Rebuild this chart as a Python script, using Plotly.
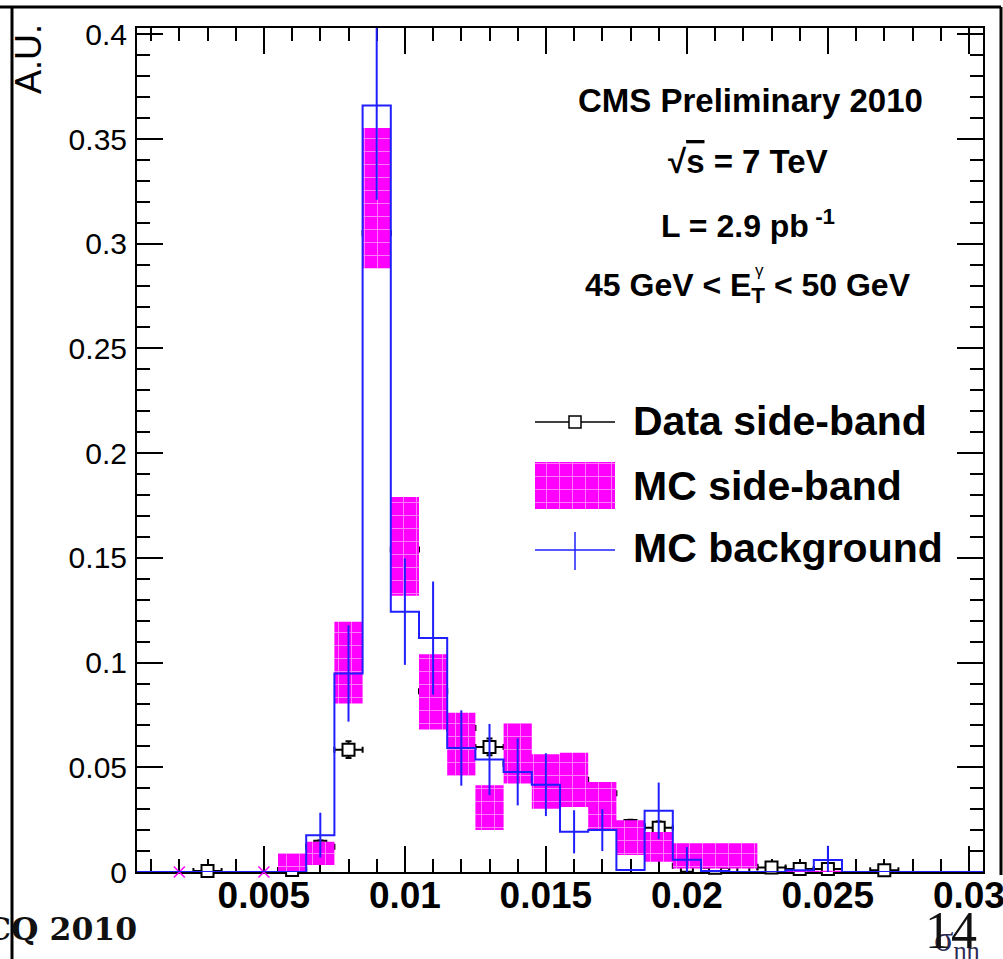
import numpy as np
import plotly.graph_objects as go

# ---------------- data ----------------
bin_width = 0.001
bin_centers = [round(0.001 * k, 3) for k in range(1, 31)]

# MC background histogram (blue), one value per bin centre 0.001 ... 0.030
mc_bkg_values = [0, 0, 0, 0, 0, 0, 0.0176, 0.0948, 0.366, 0.1243,
                 0.1117, 0.0592, 0.0537, 0.0478, 0.0417, 0.0192, 0.020, 0.001, 0.0292, 0.0059,
                 0.0005, 0, 0, 0.0008, 0.0057, 0, 0, 0, 0, 0]
mc_bkg_errors = [0, 0, 0, 0, 0, 0, 0.0107, 0.023, 0.045, 0.0254,
                 0.027, 0.018, 0.017, 0.016, 0.015, 0.0103, 0.010, 0, 0.0135, 0.006,
                 0, 0, 0, 0, 0.0068, 0, 0, 0, 0, 0]

# MC side-band (magenta boxes: value +- error)
mc_sb_x = [0.006, 0.007, 0.008, 0.009, 0.010, 0.011, 0.012, 0.013, 0.014, 0.015,
           0.016, 0.017, 0.018, 0.019, 0.020, 0.021, 0.022, 0.024, 0.025]
mc_sb_values = [0.0045, 0.0089, 0.100, 0.3217, 0.1555, 0.086, 0.061, 0.0307, 0.0567, 0.0432,
                0.044, 0.0315, 0.0164, 0.012, 0.0077, 0.0077, 0.0077, 0.0003, 0.0003]
mc_sb_errors = [0.0045, 0.0056, 0.0195, 0.0335, 0.0236, 0.018, 0.015, 0.0107, 0.0145, 0.013,
                0.013, 0.0115, 0.0083, 0.0071, 0.006, 0.006, 0.006, 0.0003, 0.0003]
mc_sb_zero_x = [0.002, 0.005]
mc_sb_zero_y = [0, 0]

# Data side-band (black squares)
data_sb_x = [0.003, 0.006, 0.007, 0.008, 0.009, 0.010, 0.011, 0.012, 0.013, 0.014,
             0.015, 0.016, 0.017, 0.018, 0.019, 0.020, 0.021, 0.022, 0.023, 0.024,
             0.025, 0.027]
data_sb_values = [0.0005, 0.001, 0.012, 0.0584, 0.305, 0.154, 0.0863, 0.0687, 0.0597, 0.0517,
                  0.0514, 0.044, 0.0376, 0.022, 0.0211, 0.003, 0.002, 0.0025, 0.0022, 0.0014,
                  0.0014, 0.0008]
data_sb_errors = [0.0005, 0.001, 0.003, 0.004, 0.009, 0.008, 0.006, 0.005, 0.004, 0.004,
                  0.004, 0.004, 0.004, 0.003, 0.003, 0.002, 0.0015, 0.0015, 0.0015, 0.001,
                  0.001, 0.001]

x_tick_vals = [0.005, 0.01, 0.015, 0.02, 0.025, 0.03]
x_tick_text = ["0.005", "0.01", "0.015", "0.02", "0.025", "0.03"]
y_tick_vals = [0, 0.05, 0.1, 0.15, 0.2, 0.25, 0.3, 0.35, 0.4]
y_tick_text = ["0", "0.05", "0.1", "0.15", "0.2", "0.25", "0.3", "0.35", "0.4"]

legend_labels = ["Data side-band", "MC side-band", "MC background"]

# ---------------- layout helpers ----------------
W, H = 1003, 959
PL, PR, PT, PB = 137, 983, 28, 872
SANS = "Liberation Sans, Arial, sans-serif"
MAGENTA = "#ff00ff"
BLUE = "#1f1fff"
PATTERN = dict(shape="+", fgcolor="white", bgcolor=MAGENTA, size=13, solidity=0.14)


def px(x):
    return (x - PL) / (PR - PL)


def py(y):
    return (PB - y) / (PB - PT)


fig = go.Figure()

# Data side-band (drawn first, beneath the MC boxes)
fig.add_trace(go.Scatter(
    x=data_sb_x, y=data_sb_values, mode="markers",
    marker=dict(symbol="square", size=12, color="white", line=dict(color="black", width=2)),
    error_x=dict(type="constant", value=bin_width / 2, color="black", thickness=2, width=3),
    error_y=dict(type="data", array=data_sb_errors, color="black", thickness=2, width=3),
    cliponaxis=False, hoverinfo="skip"))

# MC side-band boxes
bx, by = [], []
for c, v, e in zip(mc_sb_x, mc_sb_values, mc_sb_errors):
    x0, x1 = c - bin_width / 2, c + bin_width / 2
    bx += [x0, x1, x1, x0, x0, None]
    by += [v - e, v - e, v + e, v + e, v - e, None]
fig.add_trace(go.Scatter(
    x=bx, y=by, mode="lines", fill="toself", line=dict(width=0, color=MAGENTA),
    fillcolor=MAGENTA, fillpattern=PATTERN, hoverinfo="skip"))
fig.add_trace(go.Scatter(
    x=mc_sb_zero_x, y=mc_sb_zero_y, mode="markers",
    marker=dict(symbol="x-thin", size=11, line=dict(color=MAGENTA, width=1.5)),
    cliponaxis=False, hoverinfo="skip"))

# MC background histogram outline
centers = np.array(bin_centers)
edges = np.append(centers - bin_width / 2, centers[-1] + bin_width / 2)
step_y = list(mc_bkg_values) + [mc_bkg_values[-1]]
fig.add_trace(go.Scatter(
    x=edges, y=step_y, mode="lines", line=dict(color=BLUE, width=2, shape="hv"),
    cliponaxis=False, hoverinfo="skip"))
err = np.array(mc_bkg_errors)
mask = err > 0
fig.add_trace(go.Scatter(
    x=centers[mask], y=np.array(mc_bkg_values)[mask], mode="markers",
    marker=dict(size=1, color="rgba(0,0,0,0)"),
    error_y=dict(type="data", array=err[mask], color=BLUE, thickness=2, width=0),
    hoverinfo="skip"))

# ---------------- legend symbols on an overlay pixel axis ----------------
leg_y = [422, 486, 550]
fig.add_trace(go.Scatter(x=[535, 615], y=[leg_y[0], leg_y[0]], mode="lines",
                         line=dict(color="black", width=1.5), xaxis="x2", yaxis="y2", hoverinfo="skip"))
fig.add_trace(go.Scatter(x=[575], y=[leg_y[0]], mode="markers",
                         marker=dict(symbol="square", size=12, color="white", line=dict(color="black", width=1.5)),
                         xaxis="x2", yaxis="y2", hoverinfo="skip"))
fig.add_trace(go.Scatter(x=[535, 615, 615, 535, 535], y=[462, 462, 509, 509, 462], mode="lines",
                         fill="toself", line=dict(width=0, color=MAGENTA), fillcolor=MAGENTA,
                         fillpattern=PATTERN, xaxis="x2", yaxis="y2", hoverinfo="skip"))
fig.add_trace(go.Scatter(x=[535, 615, None, 575, 575], y=[leg_y[2], leg_y[2], None, 532, 570], mode="lines",
                         line=dict(color=BLUE, width=1.5), xaxis="x2", yaxis="y2", hoverinfo="skip"))

axis_common = dict(showline=True, linecolor="black", linewidth=2, mirror="allticks",
                   ticks="inside", ticklen=26, tickwidth=2, tickcolor="black",
                   showgrid=False, zeroline=False, layer="below traces", automargin=False,
                   ticklabeloverflow="allow")

fig.update_layout(
    width=W, height=H, autosize=False,
    margin=dict(l=PL, r=W - PR, t=PT, b=H - PB, pad=0),
    plot_bgcolor="white", paper_bgcolor="white", showlegend=False,
    xaxis=dict(range=[0.0005, 0.0305], tickmode="array", tickvals=x_tick_vals,
               ticktext=["<b>%s</b>" % t for t in x_tick_text],
               tickfont=dict(family=SANS, size=37, color="black"), ticklabelstandoff=-10,
               minor=dict(ticks="inside", ticklen=13, tickwidth=2, tickcolor="black",
                          tickmode="linear", tick0=0, dtick=0.001),
               **axis_common),
    yaxis=dict(range=[0, 0.403], tickmode="array", tickvals=y_tick_vals, ticktext=y_tick_text,
               tickfont=dict(family=SANS, size=30, color="black"), ticklabelstandoff=2,
               minor=dict(ticks="inside", ticklen=13, tickwidth=2, tickcolor="black",
                          tickmode="linear", tick0=0, dtick=0.01),
               **axis_common),
    xaxis2=dict(range=[PL, PR], overlaying="x", anchor="y2", visible=False, automargin=False),
    yaxis2=dict(range=[PB, PT], overlaying="y", anchor="x2", visible=False, automargin=False),
)

ann = []
# top-right text
TXT = dict(family=SANS, size=32, color="black")
ann.append(dict(x=px(750), y=py(100), text="<b>CMS Preliminary 2010</b>", font=dict(TXT, size=33)))
ann.append(dict(x=px(748), y=py(161), text="<b>√<span style='text-decoration:overline'>s</span> = 7 TeV</b>",
                font=dict(TXT, size=33)))
ann.append(dict(x=px(748), y=py(224), text="<b>L = 2.9 pb<sup> -1</sup></b>", font=TXT))
ann.append(dict(x=px(748), y=py(288), text="<b>45 GeV < E<sub>T</sub> < 50 GeV</b>", font=TXT))
ann.append(dict(x=px(759), y=py(270), text="γ", font=dict(family=SANS, size=17, color="black")))
# legend labels
for lbl, yy in zip(legend_labels, [421, 486, 548]):
    ann.append(dict(x=px(631), y=py(yy), text="<b>%s</b>" % lbl, xanchor="left",
                    font=dict(family=SANS, size=41, color="black")))
# axis titles
ann.append(dict(x=px(28), y=py(59), text="A.U.", textangle=-90, font=dict(family=SANS, size=36, color="black")))
ann.append(dict(x=px(982), y=py(942), text="σ<sub>ηη</sub>", xanchor="right",
                font=dict(family="Liberation Serif, serif", size=36, color="#2a2a55")))
# slide decorations
ann.append(dict(x=px(139), y=py(928), text="<b>CQ 2010</b>", xanchor="right",
                font=dict(family="DejaVu Serif, serif", size=31.5, color="#111111")))
ann.append(dict(x=px(951), y=py(931), text="14", font=dict(family="Liberation Serif, serif", size=52, color="#111111")))

for a in ann:
    a.setdefault("xref", "paper")
    a.setdefault("yref", "paper")
    a.setdefault("showarrow", False)
    a.setdefault("xanchor", "center")
    a.setdefault("yanchor", "middle")
fig.update_layout(annotations=ann)

# slide border lines
shapes = [
    dict(type="line", xref="paper", yref="paper", x0=px(0), x1=px(1001), y0=py(7), y1=py(7),
         line=dict(color="black", width=3)),
    dict(type="line", xref="paper", yref="paper", x0=px(12), x1=px(12), y0=py(7), y1=py(959),
         line=dict(color="black", width=3)),
    dict(type="line", xref="paper", yref="paper", x0=px(1001), x1=px(1001), y0=py(7), y1=py(875),
         line=dict(color="black", width=3)),
]
fig.update_layout(shapes=shapes)

fig.write_html("out.html")
